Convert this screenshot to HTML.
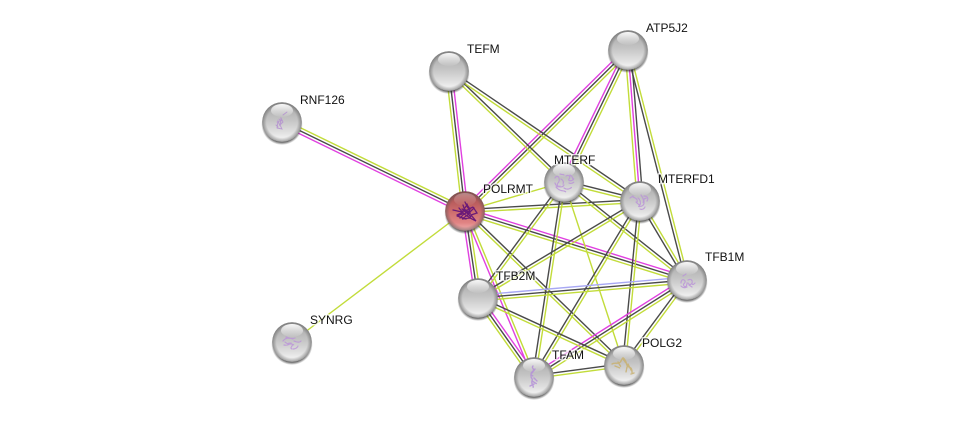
<!DOCTYPE html>
<html><head><meta charset="utf-8"><style>
html,body{margin:0;padding:0;background:#fff;width:976px;height:422px;overflow:hidden}
svg{display:block}
.y{stroke:#c2dc3a}.k{stroke:#4a4a4a}.m{stroke:#e040e0}.b{stroke:#a8a8f4}
line{stroke-width:1.4;fill:none}
text{font-family:"Liberation Sans",sans-serif;font-size:12px;fill:#111;paint-order:stroke;stroke:rgba(255,255,255,.7);stroke-width:3px;stroke-linejoin:round}
.s{fill:none;stroke-width:.9;stroke-linecap:round;opacity:.85}
</style></head><body>
<svg xmlns="http://www.w3.org/2000/svg" width="976" height="422" viewBox="0 0 976 422">
<defs>
<linearGradient id="g" x1="0" y1="0" x2="0" y2="1"><stop offset="0" stop-color="#a4a4a4"/><stop offset=".45" stop-color="#c4c4c4"/><stop offset=".8" stop-color="#e4e4e4"/><stop offset="1" stop-color="#fdfdfd"/></linearGradient>
<linearGradient id="r" x1="0" y1="0" x2="0" y2="1"><stop offset="0" stop-color="#a04a4a"/><stop offset=".45" stop-color="#c86868"/><stop offset=".8" stop-color="#e08484"/><stop offset="1" stop-color="#f4b4b4"/></linearGradient>
<linearGradient id="h" x1="0" y1="0" x2="0" y2="1"><stop offset="0" stop-color="#fff" stop-opacity=".95"/><stop offset="1" stop-color="#fff" stop-opacity=".05"/></linearGradient>
<radialGradient id="sh" cx=".5" cy=".5" r=".5"><stop offset=".82" stop-color="#222" stop-opacity=".9"/><stop offset="1" stop-color="#333" stop-opacity="0"/></radialGradient>
<radialGradient id="v" cx=".5" cy=".5" r=".5"><stop offset=".78" stop-color="#555" stop-opacity="0"/><stop offset="1" stop-color="#555" stop-opacity=".55"/></radialGradient>
<g id="n"><circle cy="2.4" r="20.6" fill="url(#sh)"/><circle r="19.8" fill="url(#g)"/><circle r="19.8" fill="url(#v)"/><ellipse cy="-11.5" rx="11" ry="6.5" fill="url(#h)"/></g>
<g id="nr"><circle cy="2.4" r="20.6" fill="url(#sh)"/><circle r="19.8" fill="url(#r)"/><circle r="19.8" fill="url(#v)"/></g>
</defs>

<!-- RNF126-POLRMT -->
<line class="y" x1="282" y1="122" x2="465" y2="211" transform="translate(1.28 -2.6)"/><line class="k" x1="282" y1="122" x2="465" y2="211"/><line class="m" x1="282" y1="122" x2="465" y2="211" transform="translate(-1.28 2.6)"/>
<!-- SYNRG-POLRMT -->
<line class="y" x1="292" y1="342" x2="465" y2="211"/>
<!-- TEFM-POLRMT -->
<line class="y" x1="449" y1="71" x2="465" y2="211" transform="translate(-2.88 .33)"/><line class="k" x1="449" y1="71" x2="465" y2="211"/><line class="m" x1="449" y1="71" x2="465" y2="211" transform="translate(2.88 -.33)"/>
<!-- ATP5J2-POLRMT -->
<line class="m" x1="628" y1="50" x2="465" y2="211" transform="translate(-2.04 -2.06)"/><line class="k" x1="628" y1="50" x2="465" y2="211"/><line class="y" x1="628" y1="50" x2="465" y2="211" transform="translate(2.04 2.06)"/>
<!-- TEFM-MTERF -->
<line class="k" x1="449" y1="71" x2="564" y2="182" transform="translate(1 -1.04)"/><line class="y" x1="449" y1="71" x2="564" y2="182" transform="translate(-1 1.04)"/>
<!-- TEFM-MTERFD1 -->
<line class="k" x1="449" y1="71" x2="640" y2="201" transform="translate(.82 -1.2)"/><line class="y" x1="449" y1="71" x2="640" y2="201" transform="translate(-.82 1.2)"/>
<!-- ATP5J2-MTERF -->
<line class="m" x1="628" y1="50" x2="564" y2="182" transform="translate(-2.6 -1.27)"/><line class="k" x1="628" y1="50" x2="564" y2="182"/><line class="y" x1="628" y1="50" x2="564" y2="182" transform="translate(2.6 1.27)"/>
<!-- ATP5J2-MTERFD1 -->
<line class="y" x1="628" y1="50" x2="640" y2="201" transform="translate(-2.89 .23)"/><line class="m" x1="628" y1="50" x2="640" y2="201"/><line class="k" x1="628" y1="50" x2="640" y2="201" transform="translate(2.89 -.23)"/>
<!-- ATP5J2-TFB1M -->
<line class="k" x1="628" y1="50" x2="687" y2="280" transform="translate(-1.4 .36)"/><line class="y" x1="628" y1="50" x2="687" y2="280" transform="translate(1.4 -.36)"/>
<!-- POLRMT-MTERF -->
<line class="y" x1="465" y1="211" x2="564" y2="182"/>
<!-- POLRMT-MTERFD1 -->
<line class="k" x1="465" y1="211" x2="640" y2="201" transform="translate(-.08 -1.45)"/><line class="y" x1="465" y1="211" x2="640" y2="201" transform="translate(.08 1.45)"/>
<!-- POLRMT-TFB1M -->
<line class="m" x1="465" y1="211" x2="687" y2="280" transform="translate(.87 -2.77)"/><line class="k" x1="465" y1="211" x2="687" y2="280"/><line class="y" x1="465" y1="211" x2="687" y2="280" transform="translate(-.87 2.77)"/>
<!-- POLRMT-TFB2M -->
<line class="m" x1="465" y1="211" x2="478" y2="298" transform="translate(-2.87 .43)"/><line class="k" x1="465" y1="211" x2="478" y2="298"/><line class="y" x1="465" y1="211" x2="478" y2="298" transform="translate(2.87 -.43)"/>
<!-- POLRMT-TFAM -->
<line class="m" x1="465" y1="211" x2="534" y2="377" transform="translate(-1.34 .56)"/><line class="y" x1="465" y1="211" x2="534" y2="377" transform="translate(1.34 -.56)"/>
<!-- POLRMT-POLG2 -->
<line class="k" x1="465" y1="211" x2="624" y2="365" transform="translate(1.01 -1.04)"/><line class="y" x1="465" y1="211" x2="624" y2="365" transform="translate(-1.01 1.04)"/>
<!-- MTERF-MTERFD1 -->
<line class="k" x1="564" y1="182" x2="640" y2="201" transform="translate(.35 -1.41)"/><line class="y" x1="564" y1="182" x2="640" y2="201" transform="translate(-.35 1.41)"/>
<!-- MTERF-TFB1M -->
<line class="k" x1="564" y1="182" x2="687" y2="280" transform="translate(.9 -1.13)"/><line class="y" x1="564" y1="182" x2="687" y2="280" transform="translate(-.9 1.13)"/>
<!-- MTERF-TFB2M -->
<line class="k" x1="564" y1="182" x2="478" y2="298" transform="translate(-1.16 -.87)"/><line class="y" x1="564" y1="182" x2="478" y2="298" transform="translate(1.16 .87)"/>
<!-- MTERF-TFAM -->
<line class="k" x1="564" y1="182" x2="534" y2="377" transform="translate(-1.43 -.22)"/><line class="y" x1="564" y1="182" x2="534" y2="377" transform="translate(1.43 .22)"/>
<!-- MTERF-POLG2 -->
<line class="y" x1="564" y1="182" x2="624" y2="365"/>
<!-- MTERFD1-TFB1M -->
<line class="k" x1="640" y1="201" x2="687" y2="280" transform="translate(-1.25 .74)"/><line class="y" x1="640" y1="201" x2="687" y2="280" transform="translate(1.25 -.74)"/>
<!-- MTERFD1-TFB2M -->
<line class="k" x1="640" y1="201" x2="478" y2="298" transform="translate(-.75 -1.24)"/><line class="y" x1="640" y1="201" x2="478" y2="298" transform="translate(.75 1.24)"/>
<!-- MTERFD1-TFAM -->
<line class="k" x1="640" y1="201" x2="534" y2="377" transform="translate(-1.25 -.75)"/><line class="y" x1="640" y1="201" x2="534" y2="377" transform="translate(1.25 .75)"/>
<!-- MTERFD1-POLG2 -->
<line class="k" x1="640" y1="201" x2="624" y2="365" transform="translate(-1.44 -.14)"/><line class="y" x1="640" y1="201" x2="624" y2="365" transform="translate(1.44 .14)"/>
<!-- TFB1M-TFB2M -->
<line class="b" x1="687" y1="280" x2="478" y2="298" transform="translate(-.25 -2.89)"/><line class="k" x1="687" y1="280" x2="478" y2="298"/><line class="y" x1="687" y1="280" x2="478" y2="298" transform="translate(.25 2.89)"/>
<!-- TFB1M-TFAM -->
<line class="m" x1="687" y1="280" x2="534" y2="377" transform="translate(-1.57 -2.45)"/><line class="k" x1="687" y1="280" x2="534" y2="377"/><line class="y" x1="687" y1="280" x2="534" y2="377" transform="translate(1.57 2.45)"/>
<!-- TFB1M-POLG2 -->
<line class="k" x1="687" y1="280" x2="624" y2="365" transform="translate(-1.16 -.87)"/><line class="y" x1="687" y1="280" x2="624" y2="365" transform="translate(1.16 .87)"/>
<!-- TFB2M-TFAM -->
<line class="y" x1="478" y1="298" x2="534" y2="377" transform="translate(-2.37 1.68)"/><line class="k" x1="478" y1="298" x2="534" y2="377"/><line class="m" x1="478" y1="298" x2="534" y2="377" transform="translate(2.37 -1.68)"/>
<!-- TFB2M-POLG2 -->
<line class="k" x1="478" y1="298" x2="624" y2="365" transform="translate(.6 -1.32)"/><line class="y" x1="478" y1="298" x2="624" y2="365" transform="translate(-.6 1.32)"/>
<!-- TFAM-POLG2 -->
<line class="k" x1="534" y1="377" x2="624" y2="365" transform="translate(-.19 -1.44)"/><line class="y" x1="534" y1="377" x2="624" y2="365" transform="translate(.19 1.44)"/>

<!-- Nodes -->
<g transform="translate(282,122)"><use href="#n"/><path class="s" stroke="#b48fd0" d="M-5 6l1-7 2 5 1-8 2 4-3 3 2 4-5-1M-5 0l5-2M1-7l4-3M-3-3l2 3M-6 3l2 2"/></g>
<g transform="translate(449,71)"><use href="#n"/></g>
<g transform="translate(628,50)"><use href="#n"/></g>
<g transform="translate(564,182)"><use href="#n"/><path class="s" style="stroke-width:1.2" stroke="#bb94d8" stroke-dasharray="2 1" d="M-9-4c3-5 6 2 3 5s4 6 6 2M-9 1c1 3 3 5 5 3M2-6c3-2 5 1 3 3s4 3 5-1M0 6c3 2 6 1 8-1M-4-8c2 1 3 0 4 1M5 1c2 1 4 0 5-1M-8 5c4 5 8 3 10 5M-3-3c2 1 3 3 2 5M6-7c2 1 3 3 3 5"/></g>
<g transform="translate(640,201)"><use href="#n"/><path class="s" style="stroke-width:1.2" stroke="#bb94d8" stroke-dasharray="2 1" d="M-7-4c3 1 5 3 4 5M-2-3c3 2 3 7 1 8s5 1 5-3-1-4 3-5M4-5c3 0 5 2 3 5M-10-3l3-2M0 8c2 1 4 0 5-2M-4 1c2 2 3 3 5 3M1-6c2 3 3 5 2 8"/></g>
<g transform="translate(465,211)"><use href="#nr"/><ellipse cy="-11.5" rx="11" ry="6.5" fill="url(#h)" opacity=".35"/><path class="s" style="stroke-width:1.3;opacity:1" stroke="#6a1a78" stroke-dasharray="3 .8" d="M-12-1l9 2 5-7 3 4-6 2 5 3-7 5 8-1 6 3-5-6 6-2-4-6-4 2 1 4-6-4-2 5-5 2 9 3M-8 4l6-3M-2-6l2 6 6 6M0-9l3 6M-5 7l4-4 8 5M3 3l6-6M-3-2l7 3M-1 3l6-3M-6-3l5 6M2-7l3 9"/></g>
<g transform="translate(687,280)"><use href="#n"/><path class="s" style="stroke-width:1.2" stroke="#bb94d8" stroke-dasharray="2 1" d="M-6 3c0-4 3-4 4-2s-3 3-1 5 3-1 3-3M1 0c3-2 5 1 4 3s-3 2-4 0M-4-4l3-2M5 4c1 1 2 0 3-1M-6 6c2 2 4 2 6 1M2 5l3 2"/></g>
<g transform="translate(478,298)"><use href="#n"/></g>
<g transform="translate(292,342)"><use href="#n"/><path class="s" style="stroke-width:1.2" stroke="#bb94d8" stroke-dasharray="2 1" d="M-9-1c3-4 7-3 10-2M-8 3c4 1 6-2 8-1s-3 4 0 5M-6-5c3 1 6 2 9 1M-3 1l5 2M2-1c3 1 5 2 7 0M1 7c2 0 4-1 5-3M-7 0c2 2 4 2 6 1"/></g>
<g transform="translate(534,377)"><use href="#n"/><path class="s" style="stroke-width:1.4" stroke="#b48fd8" stroke-dasharray="2 1" d="M-1-11c-2 2 2 3 0 5s-2 2-2 5 2 2 1 5 2 4 1 7M1-8l-3 4M-2 4l5 3M-4 9l4-2M0 1l3 3M-3-2l2 1"/></g>
<g transform="translate(624,365)"><use href="#n"/><path class="s" style="stroke-width:1.4" stroke="#c8b070" stroke-dasharray="2 1" d="M-12-1c4-2 7 1 9-3s2-4 4-1 1 6 4 7 3 3 3 6M-9 1l5 2M-1-6l3 4M3 2l-1 5M10 8l-3 1M-6-3l3 5M4-1l3 6"/></g>

<!-- Labels -->
<text x="300" y="104">RNF126</text>
<text x="467" y="53">TEFM</text>
<text x="646" y="32">ATP5J2</text>
<text x="554" y="164">MTERF</text>
<text x="658" y="183">MTERFD1</text>
<text x="483" y="193">POLRMT</text>
<text x="705" y="261">TFB1M</text>
<text x="496" y="280">TFB2M</text>
<text x="310" y="324">SYNRG</text>
<text x="552" y="359">TFAM</text>
<text x="642" y="347">POLG2</text>
</svg>
</body></html>
